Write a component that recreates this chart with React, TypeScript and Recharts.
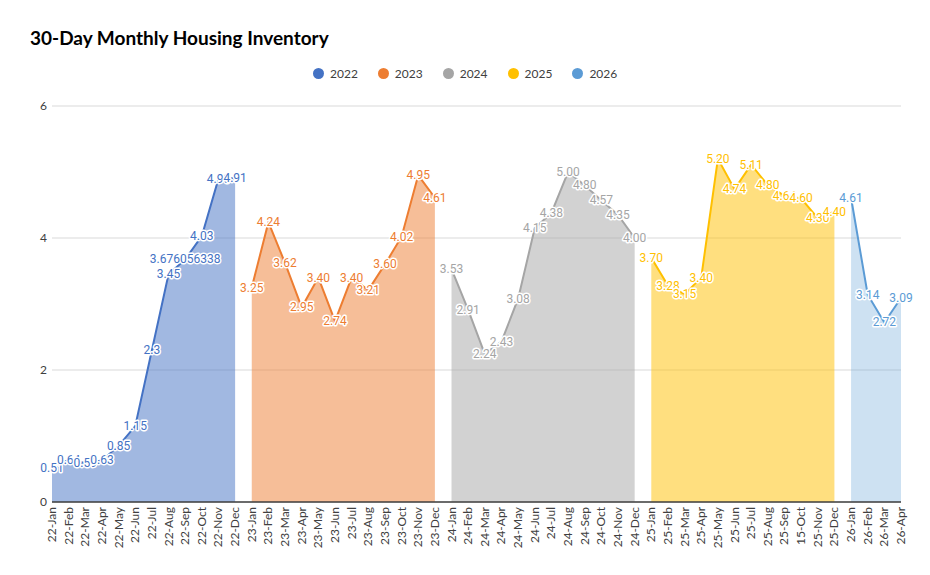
import { AreaChart, Area, XAxis, YAxis, CartesianGrid, LabelList } from 'recharts'

const monthLabels = [
  '22-Jan', '22-Feb', '22-Mar', '22-Apr', '22-May', '22-Jun', '22-Jul', '22-Aug', '22-Sep', '22-Oct', '22-Nov', '22-Dec',
  '23-Jan', '23-Feb', '23-Mar', '23-Apr', '23-May', '23-Jun', '23-Jul', '23-Aug', '23-Sep', '23-Oct', '23-Nov', '23-Dec',
  '24-Jan', '24-Feb', '24-Mar', '24-Apr', '24-May', '24-Jun', '24-Jul', '24-Aug', '24-Sep', '24-Oct', '24-Nov', '24-Dec',
  '25-Jan', '25-Feb', '25-Mar', '25-Apr', '25-May', '25-Jun', '25-Jul', '25-Aug', '25-Sep', '15-Oct', '25-Nov', '25-Dec',
  '26-Jan', '26-Feb', '26-Mar', '26-Apr',
]

const years = ['2022', '2023', '2024', '2025', '2026']

const values2022 = [0.51, 0.64, 0.59, 0.63, 0.85, 1.15, 2.3, 3.45, 3.676056338, 4.03, 4.9, 4.91]
const labels2022 = ['0.51', '0.64', '0.59', '0.63', '0.85', '1.15', '2.3', '3.45', '3.676056338', '4.03', '4.90', '4.91']
const values2023 = [3.25, 4.24, 3.62, 2.95, 3.4, 2.74, 3.4, 3.21, 3.6, 4.02, 4.95, 4.61]
const values2024 = [3.53, 2.91, 2.24, 2.43, 3.08, 4.15, 4.38, 5.0, 4.8, 4.57, 4.35, 4.0]
const values2025 = [3.7, 3.28, 3.15, 3.4, 5.2, 4.74, 5.11, 4.8, 4.64, 4.6, 4.3, 4.4]
const values2026 = [4.61, 3.14, 2.72, 3.09]

const seriesValues = [values2022, values2023, values2024, values2025, values2026]
const colors = ['#4472C4', '#ED7D31', '#A5A5A5', '#FFC000', '#5B9BD5']
const fillOpacity = [0.5, 0.5, 0.5, 0.5, 0.3]

const yTicks = [0, 2, 4, 6]

const data = monthLabels.map((month, i) => {
  const row: Record<string, string | number | null> = { month }
  years.forEach((yr, s) => {
    const start = s * 12
    const v = seriesValues[s][i - start]
    row['y' + yr] = i >= start && v !== undefined ? v : null
  })
  return row
})

function MonthTick({ x, y, payload }: any) {
  return (
    <text
      x={x}
      y={y}
      transform={`rotate(-90 ${x} ${y})`}
      textAnchor="end"
      dx={-5}
      dy={4}
      fontSize={12}
      fill="#404040"
      fontFamily="Lato, 'Liberation Sans', sans-serif"
    >
      {payload.value}
    </text>
  )
}

function makeLabel(s: number) {
  return (props: any) => {
    const { x, y, value, index } = props
    if (value === null || value === undefined) return null
    const text = s === 0 ? labels2022[index] : Number(value).toFixed(2)
    return (
      <text
        x={x}
        y={y}
        dy={4}
        textAnchor="middle"
        fontSize={12}
        fontFamily="Roboto, sans-serif"
        fill={colors[s]}
        stroke="#fff"
        strokeWidth={3}
        paintOrder="stroke"
        strokeLinejoin="round"
      >
        {text}
      </text>
    )
  }
}

export default function App() {
  return (
    <div style={{ position: 'absolute', left: 0, top: 0, width: 930, height: 575, background: '#fff' }}>
      <div
        style={{
          position: 'absolute',
          left: 30,
          top: 26,
          fontFamily: "Lato, 'Liberation Sans', sans-serif",
          fontWeight: 700,
          fontSize: 19,
          color: '#000',
        }}
      >
        30-Day Monthly Housing Inventory
      </div>
      <div
        style={{
          position: 'absolute',
          left: 313,
          top: 66,
          display: 'flex',
          alignItems: 'center',
          fontFamily: "Lato, 'Liberation Sans', sans-serif",
          fontSize: 12,
          color: '#404040',
        }}
      >
        {years.map((yr, s) => (
          <div key={yr} style={{ display: 'flex', alignItems: 'center', marginRight: 20 }}>
            <span
              style={{
                width: 11,
                height: 11,
                borderRadius: '50%',
                background: colors[s],
                display: 'inline-block',
                marginRight: 6,
              }}
            />
            <span>{yr}</span>
          </div>
        ))}
      </div>
      <AreaChart
        width={930}
        height={575}
        data={data}
        margin={{ top: 106, right: 29, bottom: 0, left: 0 }}
        style={{ position: 'absolute', left: 0, top: 0 }}
      >
        <CartesianGrid horizontal vertical={false} stroke="#D9D9D9" />
        <XAxis
          dataKey="month"
          interval={0}
          height={73}
          tick={<MonthTick />}
          tickLine={false}
          tickSize={0}
          tickMargin={0}
          axisLine={{ stroke: '#404040', strokeWidth: 1.5 }}
        />
        <YAxis
          width={52}
          domain={[0, 6]}
          ticks={yTicks}
          axisLine={false}
          tickLine={false}
          tickSize={3}
          tick={{ fontSize: 12, fill: '#404040', fontFamily: "Lato, 'Liberation Sans', sans-serif" }}
        />
        {years.map((yr, s) => (
          <Area
            key={yr}
            type="linear"
            dataKey={'y' + yr}
            stroke={colors[s]}
            strokeWidth={2}
            fill={colors[s]}
            fillOpacity={fillOpacity[s]}
            dot={false}
            activeDot={false}
            connectNulls={false}
            isAnimationActive={false}
          >
            <LabelList dataKey={'y' + yr} content={makeLabel(s)} />
          </Area>
        ))}
      </AreaChart>
    </div>
  )
}
